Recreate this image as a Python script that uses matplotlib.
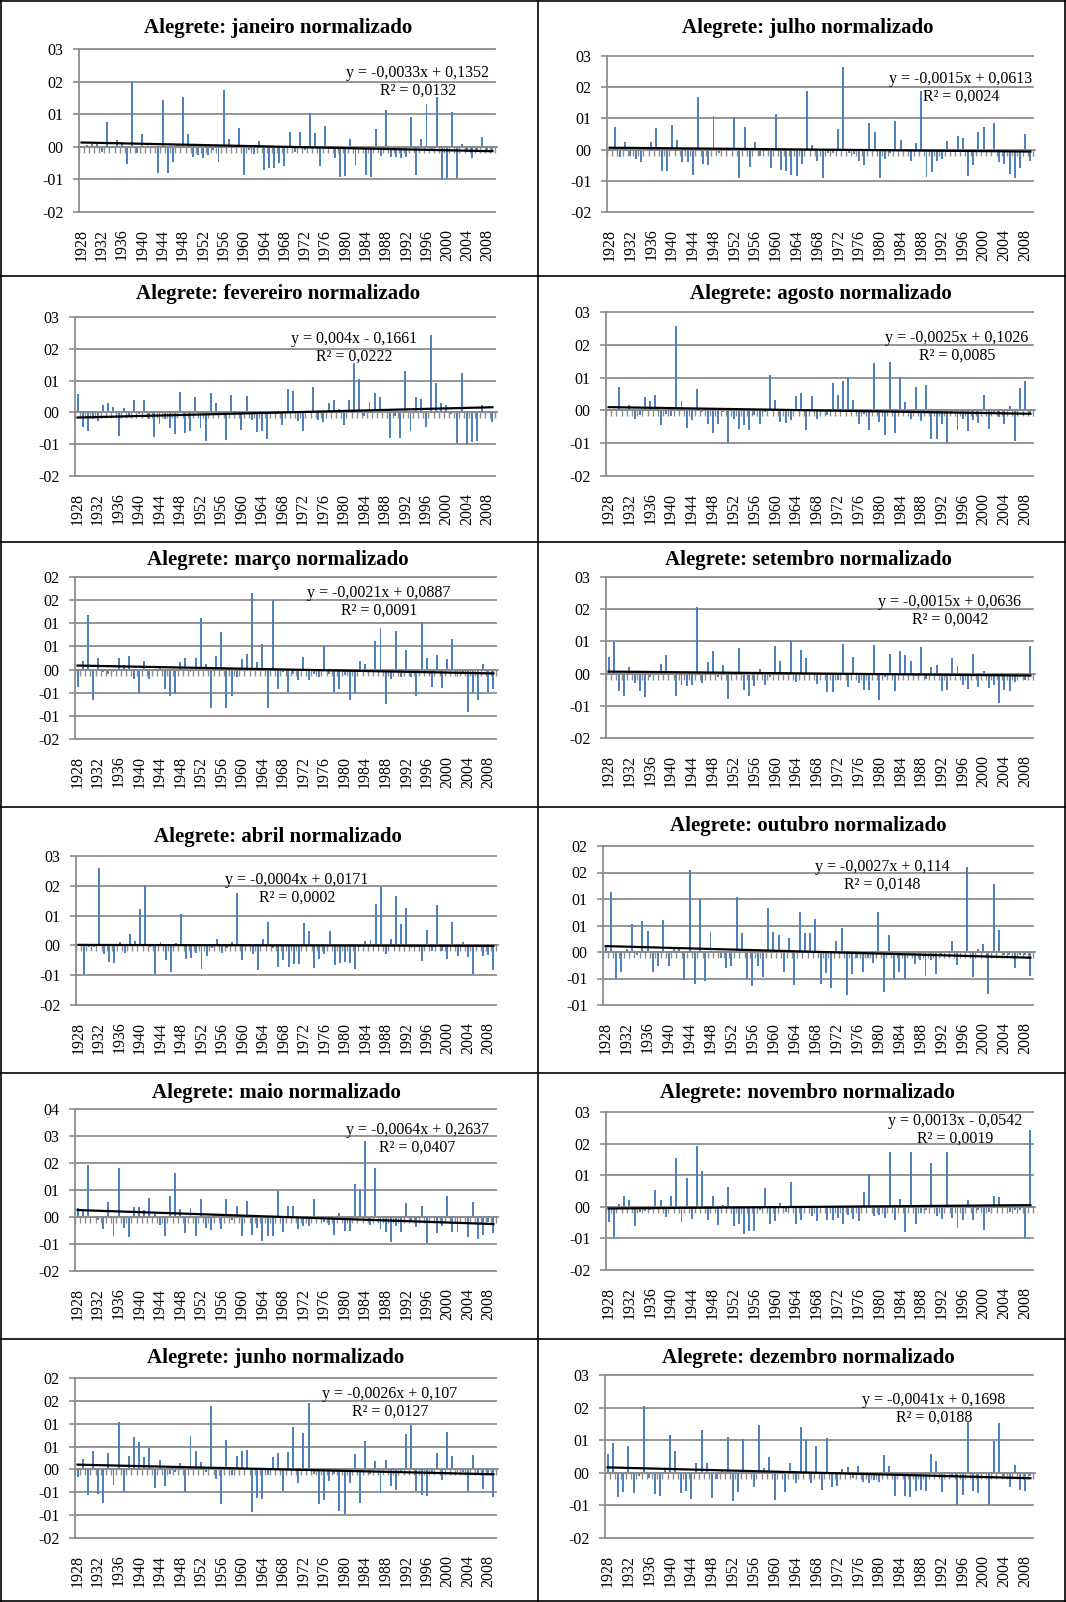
#!/usr/bin/env python3
"""
Séries mensais normalizadas de Alegrete (1928-2009) com linha de tendência.
"""

import matplotlib.pyplot as plt
import numpy as np

plt.rcParams['font.family'] = ['Liberation Serif', 'DejaVu Serif']

W, H = 1066, 1602

anos = list(range(1928, 2010))
rotulos_x = [str(a) for a in range(1928, 2009, 4)]

# valores normalizados (um valor por ano)
janeiro = [0.02, 0.05, 0.1, 0.1, -0.15, 0.75, 0.02, 0.22, 0.15, -0.52,
           2.0, -0.2, 0.38, 0.05, -0.05, -0.8, 1.45, -0.8, -0.48, 0.05,
           1.52, 0.4, -0.3, -0.25, -0.35, -0.25, -0.1, -0.48, 1.75, 0.25,
           -0.05, 0.58, -0.85, -0.1, -0.22, 0.18, -0.7, -0.65, -0.65, -0.5,
           -0.6, 0.45, -0.15, 0.45, -0.1, 1.03, 0.42, -0.58, 0.63, -0.05,
           -0.35, -0.92, -0.9, 0.25, -0.55, -0.05, -0.85, -0.92, 0.55, -0.28,
           1.13, -0.3, -0.3, -0.35, -0.3, 0.92, -0.88, 0.25, 1.3, -0.1,
           1.52, -1.0, -0.95, 1.08, -0.95, 0.08, -0.15, -0.35, -0.1, 0.3,
           -0.1, -0.15]
fevereiro = [0.57, -0.45, -0.6, -0.2, -0.28, 0.22, 0.3, 0.18, -0.75, 0.15,
             -0.1, 0.38, -0.05, 0.4, -0.2, -0.78, -0.38, -0.2, -0.5, -0.68,
             0.65, -0.65, -0.6, 0.47, -0.5, -0.9, 0.6, 0.3, -0.05, -0.88,
             0.55, -0.05, -0.55, 0.53, -0.25, -0.62, -0.58, -0.83, 0.05, -0.05,
             -0.4, 0.73, 0.68, -0.28, -0.6, 0.05, 0.8, -0.25, -0.3, 0.3,
             0.38, 0.12, -0.4, 0.38, 1.55, 1.05, -0.1, 0.32, 0.6, 0.5,
             0.05, -0.8, -0.1, -0.8, 1.3, -0.6, 0.5, 0.42, -0.45, 2.42,
             0.92, 0.28, 0.22, -0.05, -0.95, 1.25, -1.0, -0.92, -0.9, 0.22,
             0.0, -0.3]
marco = [-0.37, 0.19, 1.17, -0.65, 0.25, -0.05, -0.1, -0.05, 0.25, 0.1,
         0.3, -0.2, -0.5, 0.18, -0.2, 0.0, 0.08, -0.43, -0.57, -0.53,
         0.17, 0.25, -0.05, 0.25, 1.12, 0.12, -0.82, 0.3, 0.82, -0.82,
         -0.58, -0.15, 0.23, 0.33, 1.66, 0.17, 0.56, -0.82, 1.51, -0.43,
         -0.05, -0.48, -0.1, -0.22, 0.27, -0.22, -0.1, -0.15, 0.5, -0.1,
         -0.48, -0.42, -0.12, -0.65, -0.5, 0.18, 0.13, -0.05, 0.62, 0.9,
         -0.75, -0.2, 0.84, -0.17, 0.42, -0.15, -0.58, 1.03, 0.25, -0.38,
         0.32, -0.4, 0.22, 0.65, -0.17, -0.05, -0.92, -0.5, -0.65, 0.12,
         -0.48, -0.42]
abril = [0.0, -0.95, -0.05, -0.05, 2.6, -0.28, -0.55, -0.6, 0.12, -0.25,
         0.38, 0.15, 1.23, 2.02, -0.05, -0.95, 0.12, -0.5, -0.88, 0.08,
         1.05, -0.45, -0.42, -0.25, -0.8, -0.35, -0.1, 0.2, -0.25, -0.1,
         0.12, 1.77, -0.5, 0.05, -0.3, -0.82, 0.2, 0.77, -0.1, -0.72,
         -0.5, -0.72, -0.62, -0.62, 0.75, 0.5, -0.75, -0.45, -0.3, 0.47,
         -0.65, -0.6, -0.55, -0.58, -0.8, -0.05, 0.15, 0.17, 1.4, 1.95,
         -0.28, 0.23, 1.67, 0.72, 1.27, -0.1, -0.05, -0.52, 0.52, -0.2,
         1.37, -0.2, -0.45, 0.77, -0.35, 0.12, -0.4, -0.95, -0.05, -0.35,
         -0.32, -0.82]
maio = [0.32, 0.3, 1.93, -0.05, -0.1, -0.45, 0.55, -0.72, 1.8, -0.42,
        -0.75, 0.38, 0.38, 0.27, 0.72, 0.15, -0.28, -0.72, 0.77, 1.63,
        0.3, -0.58, 0.33, -0.7, 0.68, -0.42, -0.48, 0.1, -0.45, 0.67,
        -0.1, 0.42, -0.7, 0.6, -0.68, -0.4, -0.9, -0.72, -0.7, 0.98,
        -0.55, 0.42, 0.4, -0.45, -0.35, -0.35, 0.65, -0.05, -0.2, -0.28,
        -0.68, 0.15, -0.5, -0.5, 1.22, 1.0, 2.82, -0.28, 1.8, -0.45,
        -0.55, -0.92, -0.35, -0.55, 0.53, -0.2, -0.38, 0.42, -0.97, -0.05,
        -0.58, -0.35, 0.78, -0.55, -0.55, -0.05, -0.75, 0.55, -0.82, -0.65,
        -0.2, -0.6]
junho = [-0.17, 0.22, -0.55, 0.41, -0.53, -0.73, 0.36, -0.33, 1.03, -0.5,
         0.3, 0.7, 0.59, 0.27, 0.46, -0.4, 0.2, -0.37, -0.1, -0.05,
         0.13, -0.5, 0.74, 0.4, 0.17, -0.05, 1.39, -0.2, -0.75, 0.65,
         -0.13, 0.3, 0.4, 0.42, -0.93, -0.63, -0.65, -0.12, 0.27, 0.36,
         -0.47, 0.38, 0.92, -0.3, 0.8, 1.45, -0.1, -0.75, -0.67, -0.25,
         -0.1, -0.9, -0.98, -0.3, 0.34, -0.73, 0.63, -0.1, 0.19, -0.52,
         0.2, -0.37, -0.45, -0.05, 0.77, 0.98, -0.47, -0.57, -0.58, -0.05,
         0.37, -0.23, 0.82, 0.29, -0.05, -0.05, -0.47, 0.32, -0.13, -0.42,
         -0.1, -0.6]
julho = [0.05, 0.73, -0.25, 0.25, -0.2, -0.3, -0.4, 0.0, 0.25, 0.7,
         -0.68, -0.7, 0.8, 0.3, -0.4, -0.4, -0.8, 1.7, -0.45, -0.5,
         1.08, -0.1, 0.0, -0.05, 1.05, -0.9, 0.72, -0.55, 0.25, -0.2,
         -0.05, -0.6, 1.13, -0.65, -0.68, -0.8, -0.85, -0.45, 1.88, 0.15,
         -0.35, -0.92, -0.1, -0.1, 0.65, 2.65, -0.1, -0.15, -0.35, -0.5,
         0.85, 0.58, -0.9, -0.3, -0.1, 0.93, 0.3, -0.05, -0.38, 0.2,
         1.88, -0.88, -0.72, -0.35, -0.3, 0.28, 0.0, 0.45, 0.38, -0.85,
         -0.5, 0.55, 0.72, -0.05, 0.85, -0.4, -0.45, -0.78, -0.9, -0.6,
         0.5, -0.38]
agosto = [0.05, 0.05, 0.7, 0.05, 0.15, -0.25, -0.15, 0.4, 0.3, 0.47,
          -0.45, -0.1, -0.18, 2.57, 0.3, -0.55, -0.28, 0.65, -0.05, -0.42,
          -0.7, -0.42, -0.05, -1.0, -0.25, -0.58, -0.45, -0.6, -0.15, -0.42,
          -0.05, 1.08, 0.32, -0.35, -0.38, -0.3, 0.45, 0.53, -0.6, 0.45,
          -0.25, -0.05, -0.15, 0.85, 0.48, 0.9, 1.03, 0.33, -0.4, -0.1,
          -0.6, 1.45, -0.35, -0.75, 1.48, -0.7, 1.03, 0.27, -0.25, 0.7,
          -0.33, 0.78, -0.88, -0.88, -0.42, -1.0, -0.05, -0.6, -0.25, -0.62,
          -0.3, -0.38, 0.47, -0.58, -0.05, -0.2, -0.42, 0.13, -0.92, 0.67,
          0.9, -0.1]
setembro = [0.52, 0.98, -0.55, -0.7, 0.2, -0.3, -0.55, -0.72, -0.1, 0.0,
            0.3, 0.57, 0.0, -0.7, -0.35, -0.38, -0.35, 2.07, -0.28, 0.37,
            0.7, -0.1, 0.27, -0.8, -0.05, 0.8, -0.52, -0.7, -0.4, 0.15,
            -0.35, -0.1, 0.85, 0.4, -0.05, 1.02, -0.25, 0.72, 0.47, 0.0,
            -0.33, 0.0, -0.58, -0.57, -0.2, 0.92, -0.42, 0.52, -0.3, -0.5,
            -0.52, 0.9, -0.83, -0.1, 0.6, -0.55, 0.7, 0.57, 0.4, -0.08,
            0.82, -0.18, 0.2, 0.27, -0.55, -0.52, 0.48, 0.25, -0.35, -0.48,
            0.62, -0.42, 0.08, -0.45, -0.35, -0.92, -0.5, -0.55, -0.25, -0.1,
            -0.2, 0.87]
outubro = [0.1, 1.13, -0.5, -0.38, 0.05, 0.53, -0.05, 0.58, 0.4, -0.38,
           -0.27, 0.6, -0.27, 0.05, 0.05, -0.52, 1.55, -0.6, 1.0, -0.55,
           0.37, 0.0, -0.12, -0.3, -0.27, 1.03, 0.35, -0.5, -0.65, -0.27,
           -0.48, 0.83, 0.37, 0.33, -0.37, 0.26, -0.63, 0.76, 0.36, 0.35,
           0.63, -0.6, -0.4, -0.67, 0.2, 0.45, -0.82, -0.42, -0.12, -0.37,
           -0.12, -0.2, 0.76, -0.76, 0.33, -0.5, -0.37, -0.5, -0.05, -0.23,
           -0.15, -0.45, -0.15, -0.42, -0.05, 0.0, 0.2, -0.25, 0.0, 1.6,
           -0.48, 0.05, 0.15, -0.8, 1.28, 0.42, -0.05, -0.05, -0.3, -0.05,
           -0.05, -0.45]
novembro = [-0.48, -0.95, 0.1, 0.33, 0.2, -0.6, -0.15, -0.12, -0.1, 0.52,
            0.2, -0.32, 0.35, 1.55, -0.48, 0.9, -0.38, 1.93, 1.13, -0.42,
            0.33, -0.58, 0.05, 0.63, -0.62, -0.55, -0.85, -0.78, -0.75, -0.1,
            0.6, -0.55, -0.45, 0.13, -0.15, 0.78, -0.55, -0.42, -0.05, -0.28,
            -0.45, -0.05, -0.42, -0.42, -0.35, -0.55, -0.25, -0.4, -0.45, 0.48,
            1.03, -0.3, -0.25, -0.35, 1.72, -0.42, 0.25, -0.8, 1.75, -0.55,
            -0.2, -0.1, 1.4, -0.3, -0.38, 1.75, -0.35, -0.68, -0.42, 0.22,
            -0.42, -0.1, -0.72, -0.15, 0.35, 0.3, -0.05, -0.15, -0.1, -0.1,
            -0.98, 2.42]
dezembro = [0.57, 0.92, -0.75, -0.6, 0.82, -0.62, -0.1, 2.05, -0.15, -0.65,
            -0.72, 0.1, 1.17, 0.67, -0.62, -0.55, -0.8, 0.3, 1.3, 0.3,
            -0.78, -0.2, 0.05, 1.1, -0.88, -0.58, 1.05, 0.0, -0.45, 1.48,
            0.15, 0.47, -0.82, -0.05, -0.58, 0.3, -0.3, 1.4, 1.0, -0.3,
            0.82, -0.52, 1.07, -0.45, -0.42, 0.13, 0.18, -0.15, 0.2, -0.27,
            -0.3, -0.22, -0.28, 0.55, 0.2, -0.7, -0.05, -0.72, -0.75, -0.57,
            -0.52, -0.57, 0.58, 0.35, -0.58, -0.05, -0.1, -0.98, -0.68, 1.57,
            -0.57, -0.62, -0.05, -0.98, 0.98, 1.52, -0.1, -0.43, 0.25, -0.52,
            -0.57, -0.1]

# coeficientes da tendência (y = a*x + b), como aparecem no gráfico
inclinacoes = [-0.0033, 0.004, -0.0021, -0.0004, -0.0064, -0.0026,
               -0.0015, -0.0025, -0.0015, -0.0027, 0.0013, -0.0041]
interceptos = [0.1352, -0.1661, 0.0887, 0.0171, 0.2637, 0.107,
               0.0613, 0.1026, 0.0636, 0.114, -0.0542, 0.1698]
equacoes = ['y = -0,0033x + 0,1352\nR² = 0,0132',
            'y = 0,004x - 0,1661\nR² = 0,0222',
            'y = -0,0021x + 0,0887\nR² = 0,0091',
            'y = -0,0004x + 0,0171\nR² = 0,0002',
            'y = -0,0064x + 0,2637\nR² = 0,0407',
            'y = -0,0026x + 0,107\nR² = 0,0127',
            'y = -0,0015x + 0,0613\nR² = 0,0024',
            'y = -0,0025x + 0,1026\nR² = 0,0085',
            'y = -0,0015x + 0,0636\nR² = 0,0042',
            'y = -0,0027x + 0,114\nR² = 0,0148',
            'y = 0,0013x - 0,0542\nR² = 0,0019',
            'y = -0,0041x + 0,1698\nR² = 0,0188']

meses = ['janeiro', 'fevereiro', 'março', 'abril', 'maio', 'junho',
         'julho', 'agosto', 'setembro', 'outubro', 'novembro', 'dezembro']
series = [janeiro, fevereiro, marco, abril, maio, junho,
          julho, agosto, setembro, outubro, novembro, dezembro]

# escala do eixo y: (min, max, passo)
escalas = [(-2, 3, 1), (-2, 3, 1), (-1.5, 2, 0.5), (-2, 3, 1), (-2, 4, 1), (-1.5, 2, 0.5),
           (-2, 3, 1), (-2, 3, 1), (-2, 3, 1), (-1, 2, 0.5), (-2, 3, 1), (-2, 3, 1)]

# posição da área de plotagem em pixels (x0, y0, x1, y1)
areas = [(79, 49, 495, 212), (75, 317, 495, 476), (75, 577, 496, 739),
         (76, 856, 496, 1005), (75, 1109, 496, 1271), (75, 1378, 496, 1538),
         (607, 56, 1033, 212), (606, 312, 1033, 476), (606, 577, 1033, 738),
         (603, 846, 1033, 1005), (606, 1112, 1033, 1270), (605, 1375, 1033, 1538)]
titulos_pos = [(278, 28), (278, 294), (278, 560), (278, 837), (276, 1093), (276, 1358),
               (808, 28), (821, 294), (808, 560), (808, 826), (808, 1093), (808, 1358)]
equacoes_pos = [(418, 82), (354, 348), (379, 602), (297, 889), (417, 1139), (390, 1403),
                (961, 88), (957, 347), (950, 611), (882, 876), (955, 1130), (934, 1409)]

AZUL = '#4F81BD'
CINZA = '#8C8C8C'


def formato_excel(v, pos=None):
    """Imita o formato '00' do Excel (arredonda metade para longe do zero)"""
    r = int(np.floor(abs(v) + 0.5 + 1e-9))
    s = f'{r:02d}'
    if v < 0 and r > 0:
        s = '-' + s
    return s


def desenha_painel(fig, i):
    x0, y0, x1, y1 = areas[i]
    ax = fig.add_axes([x0 / W, 1 - y1 / H, (x1 - x0) / W, (y1 - y0) / H])
    vmin, vmax, passo = escalas[i]
    valores = series[i]
    x = np.arange(len(anos))

    ax.set_xlim(-0.5, len(anos) - 0.5)
    ax.set_ylim(vmin, vmax)

    # linhas de grade
    niveis = np.arange(vmin, vmax + passo / 2, passo)
    for nv in niveis:
        ax.axhline(nv, color=CINZA, lw=1.3, zorder=0, clip_on=False)

    ax.bar(x, valores, width=0.38, color=AZUL, zorder=2)

    # eixo de categorias cruzando no zero, com marcas
    ax.plot([-0.5, len(anos) - 0.2], [0, 0], color=CINZA, lw=1.3, zorder=3, clip_on=False)
    ax.plot(np.arange(-0.5, len(anos)), np.zeros(len(anos) + 1), linestyle='none',
            marker=3, ms=4, mew=1, color=CINZA, zorder=3, clip_on=False)

    # linha de tendência
    xt = np.array([1, len(anos)])
    yt = inclinacoes[i] * xt + interceptos[i]
    ax.plot(xt - 1, yt, color='black', lw=1.6, zorder=4)

    for lado in ['top', 'right', 'bottom']:
        ax.spines[lado].set_visible(False)
    ax.spines['left'].set_color(CINZA)
    ax.spines['left'].set_linewidth(1.3)

    ax.set_yticks(niveis)
    ax.yaxis.set_major_formatter(plt.FuncFormatter(formato_excel))
    ax.tick_params(axis='y', length=4, width=1.2, color=CINZA, labelsize=11.5, pad=7)

    ax.set_xticks(np.arange(0, len(anos), 4))
    ax.set_xticklabels(rotulos_x, rotation=90, fontsize=11.5)
    ax.tick_params(axis='x', length=0, pad=12)

    tx, ty = titulos_pos[i]
    fig.text(tx / W, 1 - ty / H, 'Alegrete: %s normalizado' % meses[i],
             ha='center', va='center', fontsize=15, fontweight='bold')
    ex, ey = equacoes_pos[i]
    fig.text(ex / W, 1 - ey / H, equacoes[i], ha='center', va='center',
             fontsize=11.5, linespacing=1.15, zorder=5)


def desenha_tabela(fig):
    """Bordas da tabela que contém os gráficos"""
    linhas = [([1, 1], [0, H]), ([W - 1, W - 1], [0, H]), ([0, W], [1, 1]),
              ([0, W], [H - 1, H - 1]), ([538, 538], [0, H])]
    for yh in [276, 542, 807, 1073, 1339]:
        linhas.append(([0, W], [yh, yh]))
    for xs, ys in linhas:
        fig.add_artist(plt.Line2D([v / W for v in xs], [1 - v / H for v in ys],
                                  color='black', lw=1.2))


if __name__ == '__main__':
    fig = plt.figure(figsize=(W / 100, H / 100), dpi=100)
    for i in range(12):
        desenha_painel(fig, i)
    desenha_tabela(fig)
    fig.savefig('out.png', dpi=100)
    print("✓ Gráfico gerado: out.png")
